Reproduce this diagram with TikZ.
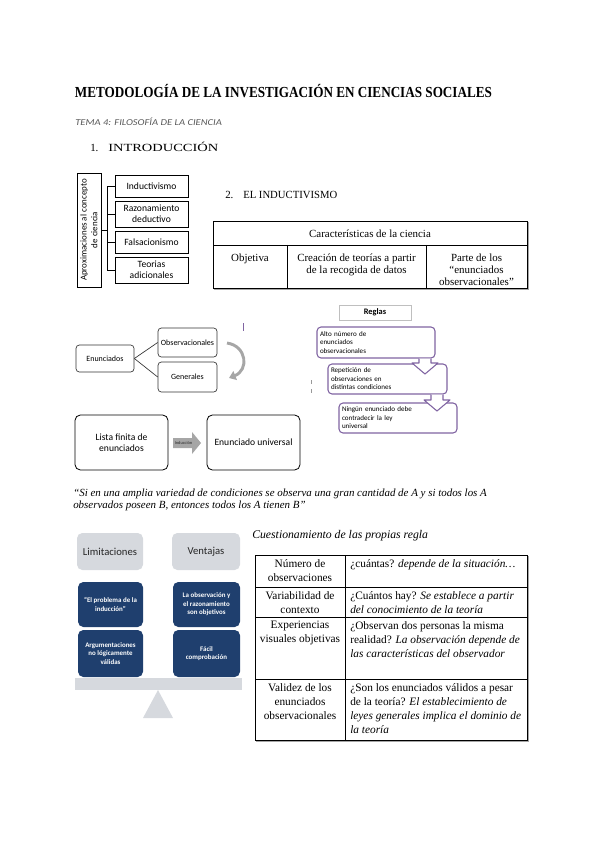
\documentclass[tikz,border=0pt]{standalone}
\usepackage{fontspec}
\setmainfont{Liberation Serif}
\newfontfamily\calib{Carlito}
\usetikzlibrary{arrows.meta}
\definecolor{purp}{HTML}{8064A2}
\definecolor{dblue}{HTML}{1F3F6E}
\definecolor{lgray}{HTML}{D6D9DE}
\definecolor{agray}{HTML}{A6A6A6}
\definecolor{tgray}{HTML}{595959}
\begin{document}
\begin{tikzpicture}[x=0.75pt,y=-0.75pt,
  sz/.style 2 args={minimum width={#1*0.75pt}, minimum height={#2*0.75pt}},
  cmapbox/.style={draw=black, line width=0.6pt, inner sep=0pt, align=center, font=\calib\fontsize{7.2}{8.4}\selectfont},
  midbox/.style={draw=black!80, rounded corners=2.5pt, line width=0.5pt, inner sep=0pt, font=\calib\fontsize{6}{7}\selectfont},
  rglbox/.style={draw=purp, line width=0.8pt, rounded corners=3pt, fill=white, align=left, inner xsep=2.25pt, inner ysep=0pt, font=\calib\fontsize{5.3}{6.4}\selectfont},
  lstbox/.style={draw=black, rounded corners=4pt, line width=0.6pt, inner sep=0pt, align=center, font=\calib\fontsize{7.2}{8.6}\selectfont},
  gbox/.style={fill=lgray, rounded corners=4pt, inner sep=0pt, text=black!85, font=\calib\fontsize{8}{9}\selectfont},
  bbox/.style={fill=dblue, rounded corners=4pt, inner sep=0pt, align=center, text=white, font=\calib\bfseries\fontsize{5.2}{6.3}\selectfont},
  tblline/.style={draw=black, line width=0.6pt},
  shdline/.style={draw=black!35, line width=0.9pt},
  ttext/.style={inner sep=0pt, align=center, font=\fontsize{8.2}{8.8}\selectfont},
  celltext/.style={inner sep=0pt, font=\fontsize{8.5}{10.5}\selectfont},
  txtzero/.style={inner sep=0pt}
]
\useasboundingbox (0,0) rectangle (600,848);

% ---------- headings ----------
\node[txtzero, anchor=base, font=\bfseries\fontsize{11.5}{13}\selectfont] (title) at (283.5,98)
  {\resizebox{312.75pt}{\height}{METODOLOGÍA DE LA INVESTIGACIÓN EN CIENCIAS SOCIALES}};
\node[txtzero, anchor=base west, text=tgray, font=\calib\itshape\fontsize{6.8}{8}\selectfont] (tema) at (75,126)
  {\resizebox{110pt}{\height}{TEMA 4: FILOSOFÍA DE LA CIENCIA}};
\node[txtzero, anchor=base west, font=\fontsize{8.2}{10}\selectfont] (intro) at (90,152)
  {\makebox[13.5pt][l]{1.}\resizebox{82.5pt}{\height}{INTRODUCCIÓN}};
\node[txtzero, anchor=base west, font=\fontsize{8.2}{10}\selectfont] (induc) at (225,199)
  {\makebox[13.5pt][l]{2.}\resizebox{70.5pt}{\height}{EL INDUCTIVISMO}};

% ---------- concept map ----------
\node[cmapbox, rotate=90, sz={114}{24}, font=\calib\fontsize{6.7}{8}\selectfont] (vb) at (89,230) {Aproximaciones al concepto\\de ciencia};
\node[cmapbox, sz={73}{22}] (b1) at (151.5,186) {Inductivismo};
\node[cmapbox, sz={73}{26}] (b2) at (151.5,214) {Razonamiento\\deductivo};
\node[cmapbox, sz={73}{22}] (b3) at (151.5,242) {Falsacionismo};
\node[cmapbox, sz={73}{26}] (b4) at (151.5,270) {Teorias\\adicionales};
\draw[line width=0.5pt] (vb.south) -- ++(7,0);
\draw[line width=0.5pt] (b1.west) -- ++(-7,0) |- (b4.west);
\draw[line width=0.5pt] (b2.west) -- ++(-7,0);
\draw[line width=0.5pt] (b3.west) -- ++(-7,0);

% ---------- table 1 ----------
\draw[shdline] (528.5,222) -- (528.5,289.5) -- (214,289.5);
\draw[tblline] (213,221) rectangle (527,288);
\draw[tblline] (213,245) -- (527,245);
\draw[tblline] (287,245) -- (287,288);
\draw[tblline] (426,245) -- (426,288);
\node[ttext] (h1) at (370,233.5) {Características de la ciencia};
\node[ttext, anchor=north] (c1) at (250,254) {Objetiva};
\node[ttext, anchor=north] (c2) at (356.5,254) {Creación de teorías a partir\\de la recogida de datos};
\node[ttext, anchor=north] (c3) at (476.5,254) {Parte de los\\“enunciados\\observacionales”};

% ---------- enunciados ----------
\node[midbox, sz={58}{27}] (en) at (105,358.5) {Enunciados};
\node[midbox, sz={59}{29}] (ob) at (187.5,342.5) {Observacionales};
\node[midbox, sz={59}{30}] (ge) at (187.5,377) {Generales};
\draw[line width=0.5pt, black!80] (en.east) -- (ob.west);
\draw[line width=0.5pt, black!80] (en.east) -- (ge.west);
\coordinate (ca1) at (227,343);
\coordinate (ca2) at (229,378);
\draw[agray, line width=2.2pt, -{Triangle[length=5pt,width=7pt]}] (ca1) .. controls (247,346) and (249,370) .. (ca2);
\draw[purp, line width=0.6pt] (243,323) -- (243,331);

% ---------- reglas ----------
\node[draw=black!25, line width=0.6pt, sz={72}{15}, inner sep=0pt, font=\calib\bfseries\fontsize{6.3}{7}\selectfont] (rg) at (375,312.5) {Reglas};
\node[rglbox, minimum height={31*0.75pt}, text width=84pt] (r1) at (376,342.5) {Alto número de\\enunciados\\observacionales};
\node[rglbox, minimum height={30*0.75pt}, text width=84.75pt] (r2) at (387.5,379) {Repetición de\\observaciones en\\distintas condiciones};
\node[rglbox, minimum height={30*0.75pt}, text width=84pt] (r3) at (398,418) {Ningún enunciado debe\\contradecir la ley\\universal};
\filldraw[draw=purp, fill=white, line width=0.8pt, line join=round]
  (419,358.6) -- (419,363) -- (412,363) -- (425,374) -- (438,363) -- (431,363) -- (431,358.6);
\filldraw[draw=purp, fill=white, line width=0.8pt, line join=round]
  (431,394.6) -- (431,400) -- (424,400) -- (437,411) -- (450,400) -- (443,400) -- (443,394.6);
\draw[black!40, line width=0.4pt] (311,380) -- (311,384);
\draw[black!40, line width=0.4pt] (311,389) -- (311,393);

% ---------- lista finita ----------
\node[lstbox, sz={93}{55}] (lf) at (121.5,442.5) {Lista finita de\\enunciados};
\node[lstbox, sz={93}{55}] (eu) at (253.5,442.5) {Enunciado universal};
\fill[agray] (173,438) -- (192,438) -- (192,432) -- (201,443) -- (192,454) -- (192,448) -- (173,448) -- cycle;
\node[txtzero, font=\calib\fontsize{3.3}{4}\selectfont, text=black!85] (ind) at (183.5,443) {Inducción};

% ---------- quote ----------
\node[txtzero, anchor=base west, font=\itshape\fontsize{8.2}{9}\selectfont] (q1) at (73,496)
  {“Si en una amplia variedad de condiciones se observa una gran cantidad de A y si todos los A};
\node[txtzero, anchor=base west, font=\itshape\fontsize{8.2}{9}\selectfont] (q2) at (73,508)
  {observados poseen B, entonces todos los A tienen B”};

% ---------- balance ----------
\node[gbox, sz={66}{37}] (lim) at (110,551.5) {Limitaciones};
\node[gbox, sz={68}{37}] (ven) at (206,551.5) {Ventajas};
\node[bbox, sz={65}{45}] (l1) at (110.5,604.5) {“El problema de la\\inducción”};
\node[bbox, sz={65}{47}] (l2) at (110.5,653.5) {Argumentaciones\\no lógicamente\\válidas};
\node[bbox, sz={67}{45}] (v1) at (206.5,604.5) {La observación y\\el razonamiento\\son objetivos};
\node[bbox, sz={67}{47}] (v2) at (206.5,653.5) {Fácil\\comprobación};
\fill[lgray] (75,678) rectangle (242,690);
\fill[lgray] (158,690) -- (173,718) -- (143,718) -- cycle;

% ---------- table 2 ----------
\node[txtzero, anchor=base west, font=\itshape\fontsize{8.8}{10}\selectfont] (cu) at (252,538) {Cuestionamiento de las propias regla};
\draw[shdline] (528.5,556) -- (528.5,741.5) -- (256,741.5);
\draw[tblline] (255,555) rectangle (527,740);
\draw[tblline] (345,555) -- (345,740);
\draw[tblline] (255,587) -- (527,587);
\draw[tblline] (255,617) -- (527,617);
\draw[tblline] (255,679) -- (527,679);
\node[celltext, anchor=north, align=center] (n1) at (300,559) {Número de\\observaciones};
\node[celltext, anchor=north west, align=left] (a1) at (350,559) {¿cuántas? \textit{depende de la situación…}};
\node[celltext, anchor=north, align=center] (n2) at (300,591) {Variabilidad de\\contexto};
\node[celltext, anchor=north west, align=left] (a2) at (350,591) {¿Cuántos hay? \textit{Se establece a partir}\\\textit{del conocimiento de la teoría}};
\node[celltext, anchor=north, align=center] (n3) at (300,621) {Experiencias\\visuales objetivas};
\node[celltext, anchor=north west, align=left] (a3) at (350,621) {¿Observan dos personas la misma\\realidad? \textit{La observación depende de}\\\textit{las características del observador}};
\node[celltext, anchor=north, align=center] (n4) at (300,683) {Validez de los\\enunciados\\observacionales};
\node[celltext, anchor=north west, align=left] (a4) at (350,683) {¿Son los enunciados válidos a pesar\\de la teoría? \textit{El establecimiento de}\\\textit{leyes generales implica el dominio de}\\\textit{la teoría}};
\end{tikzpicture}
\end{document}
